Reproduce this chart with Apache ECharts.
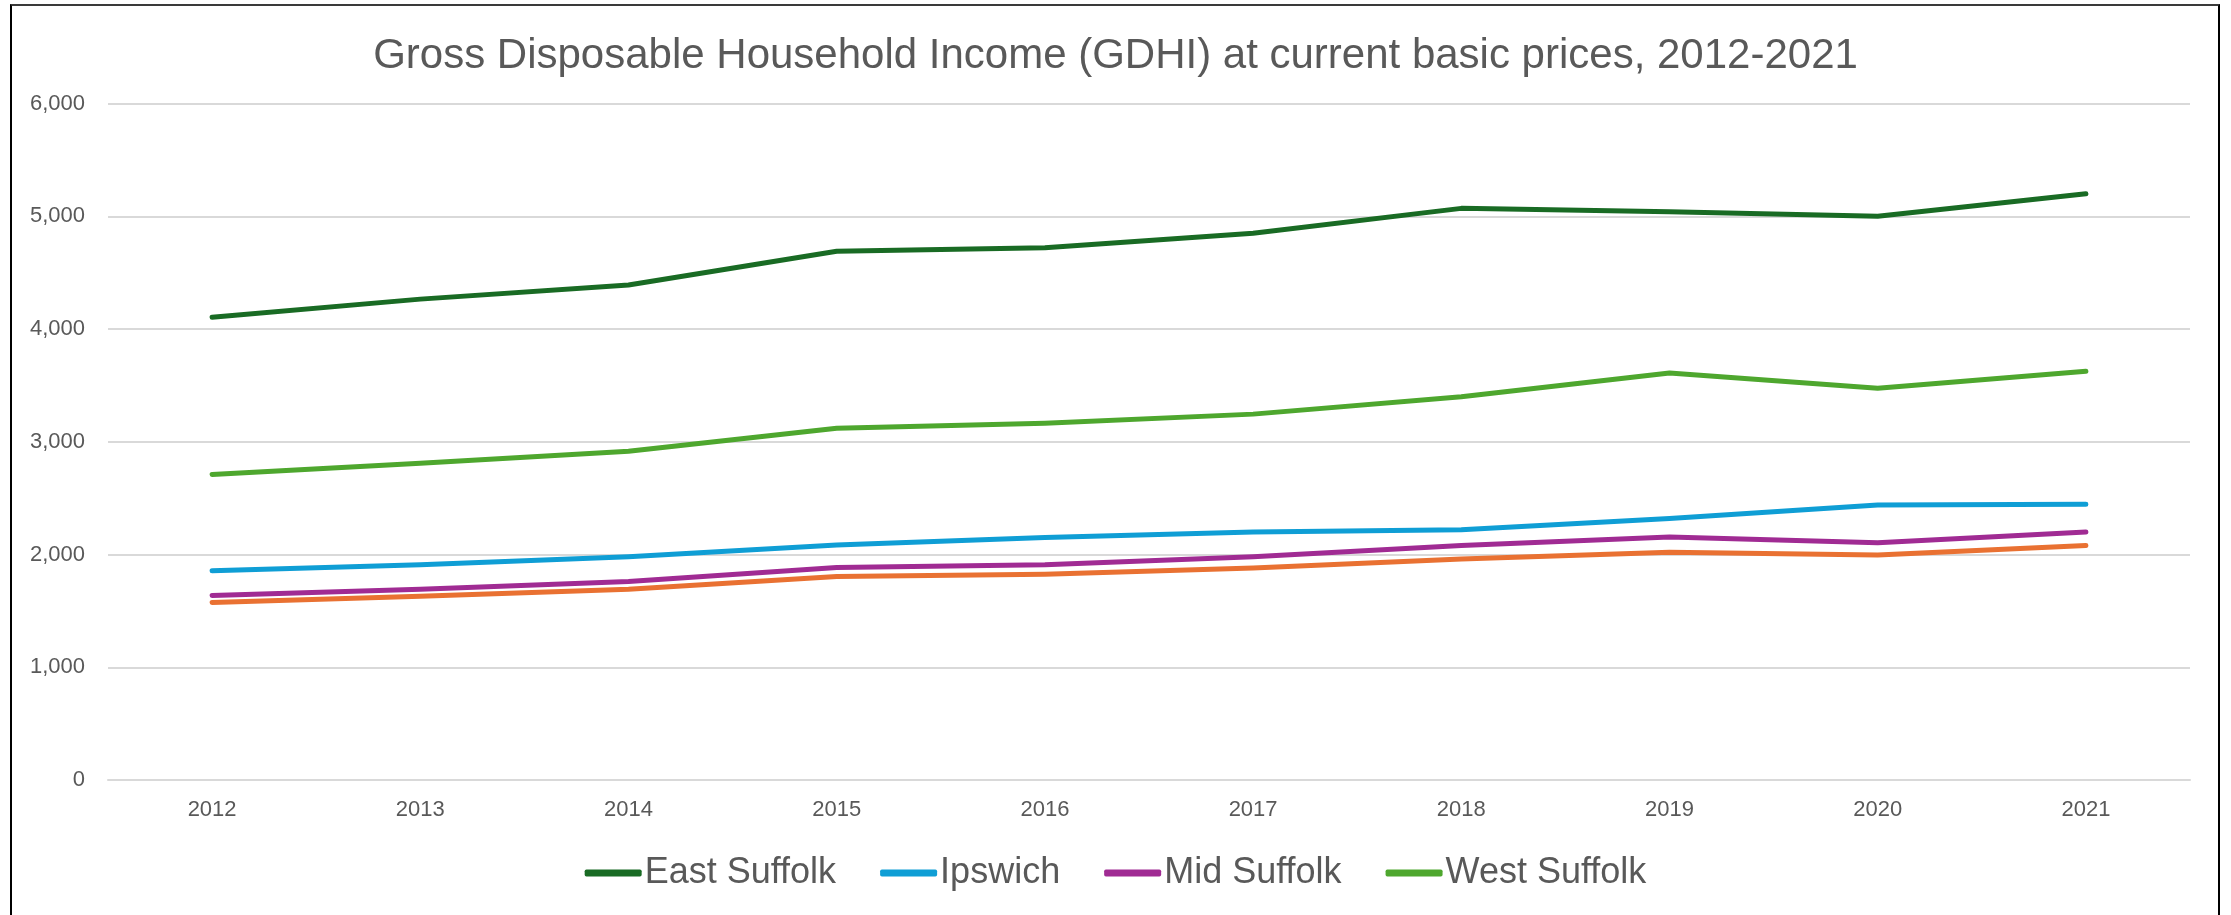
<!DOCTYPE html>
<html>
<head>
<meta charset="utf-8">
<title>GDHI Suffolk</title>
<script src="https://cdn.jsdelivr.net/npm/echarts@6/dist/echarts.min.js"></script>
<style>
  html, body {
    margin: 0;
    padding: 0;
    width: 2231px;
    height: 915px;
    overflow: hidden;
    background: #ffffff;
  }
  #chart {
    position: absolute;
    left: 0;
    top: 0;
    width: 2231px;
    height: 915px;
  }
  .frame {
    position: absolute;
    left: 10px;
    top: 4px;
    width: 2206px;
    height: 1000px;
    border-left: 2px solid #000;
    border-right: 2px solid #000;
    border-top: 2px solid #3a3a3a;
    pointer-events: none;
  }
</style>
</head>
<body>
<div id="chart"></div>
<div class="frame"></div>
<script>
// years on the x axis
const years = ['2012', '2013', '2014', '2015', '2016', '2017', '2018', '2019', '2020', '2021'];

// GDHI values (£ million)
const babergh = [1575, 1630, 1692, 1805, 1825, 1880, 1960, 2020, 1995, 2080];
const eastSuffolk = [4105, 4265, 4390, 4690, 4720, 4850, 5070, 5040, 5000, 5200];
const ipswich = [1855, 1910, 1980, 2085, 2150, 2200, 2220, 2320, 2440, 2445];
const midSuffolk = [1636, 1692, 1760, 1885, 1910, 1980, 2080, 2155, 2105, 2200];
const westSuffolk = [2710, 2810, 2915, 3120, 3165, 3245, 3400, 3610, 3475, 3625];

// y axis ticks
const yMin = 0;
const yMax = 6000;
const yStep = 1000;

const chart = echarts.init(document.getElementById('chart'));

const mkLine = (name, data, color) => ({
  name: name,
  type: 'line',
  data: data,
  symbol: 'none',
  smooth: false,
  itemStyle: { color: color },
  lineStyle: { color: color, width: 5, cap: 'round', join: 'round' }
});

const option = {
  animation: false,
  backgroundColor: 'transparent',
  textStyle: { fontFamily: 'Liberation Sans' },
  title: {
    text: 'Gross Disposable Household Income (GDHI) at current basic prices, 2012-2021',
    left: 'center',
    top: 30,
    textStyle: {
      fontFamily: 'Liberation Sans',
      fontSize: 42,
      fontWeight: 'normal',
      color: '#595959'
    }
  },
  legend: {
    data: ['East Suffolk', 'Ipswich', 'Mid Suffolk', 'West Suffolk'],
    left: 'center',
    top: 850,
    icon: 'roundRect',
    itemWidth: 57,
    itemHeight: 7,
    itemGap: 44,
    textStyle: {
      fontFamily: 'Liberation Sans',
      fontSize: 36,
      color: '#595959',
      padding: [0, 0, 0, -2]
    }
  },
  grid: {
    left: 108,
    right: 41,
    top: 103.5,
    bottom: 135,
    containLabel: false
  },
  xAxis: {
    type: 'category',
    data: years,
    boundaryGap: true,
    axisLine: { show: true, lineStyle: { color: '#d9d9d9', width: 2 } },
    axisTick: { show: false },
    axisLabel: {
      margin: 19,
      fontSize: 22,
      color: '#595959',
      fontFamily: 'Liberation Sans'
    }
  },
  yAxis: {
    type: 'value',
    min: yMin,
    max: yMax,
    interval: yStep,
    axisLine: { show: false },
    axisTick: { show: false },
    splitLine: { lineStyle: { color: '#d9d9d9', width: 2 } },
    axisLabel: {
      margin: 23,
      fontSize: 22,
      color: '#595959',
      fontFamily: 'Liberation Sans',
      formatter: v => v.toLocaleString('en-GB')
    }
  },
  series: [
    mkLine('Babergh', babergh, '#E97132'),
    mkLine('East Suffolk', eastSuffolk, '#196B24'),
    mkLine('Ipswich', ipswich, '#0F9ED5'),
    mkLine('Mid Suffolk', midSuffolk, '#A02B93'),
    mkLine('West Suffolk', westSuffolk, '#4EA72E')
  ]
};

chart.setOption(option);
</script>
</body>
</html>
